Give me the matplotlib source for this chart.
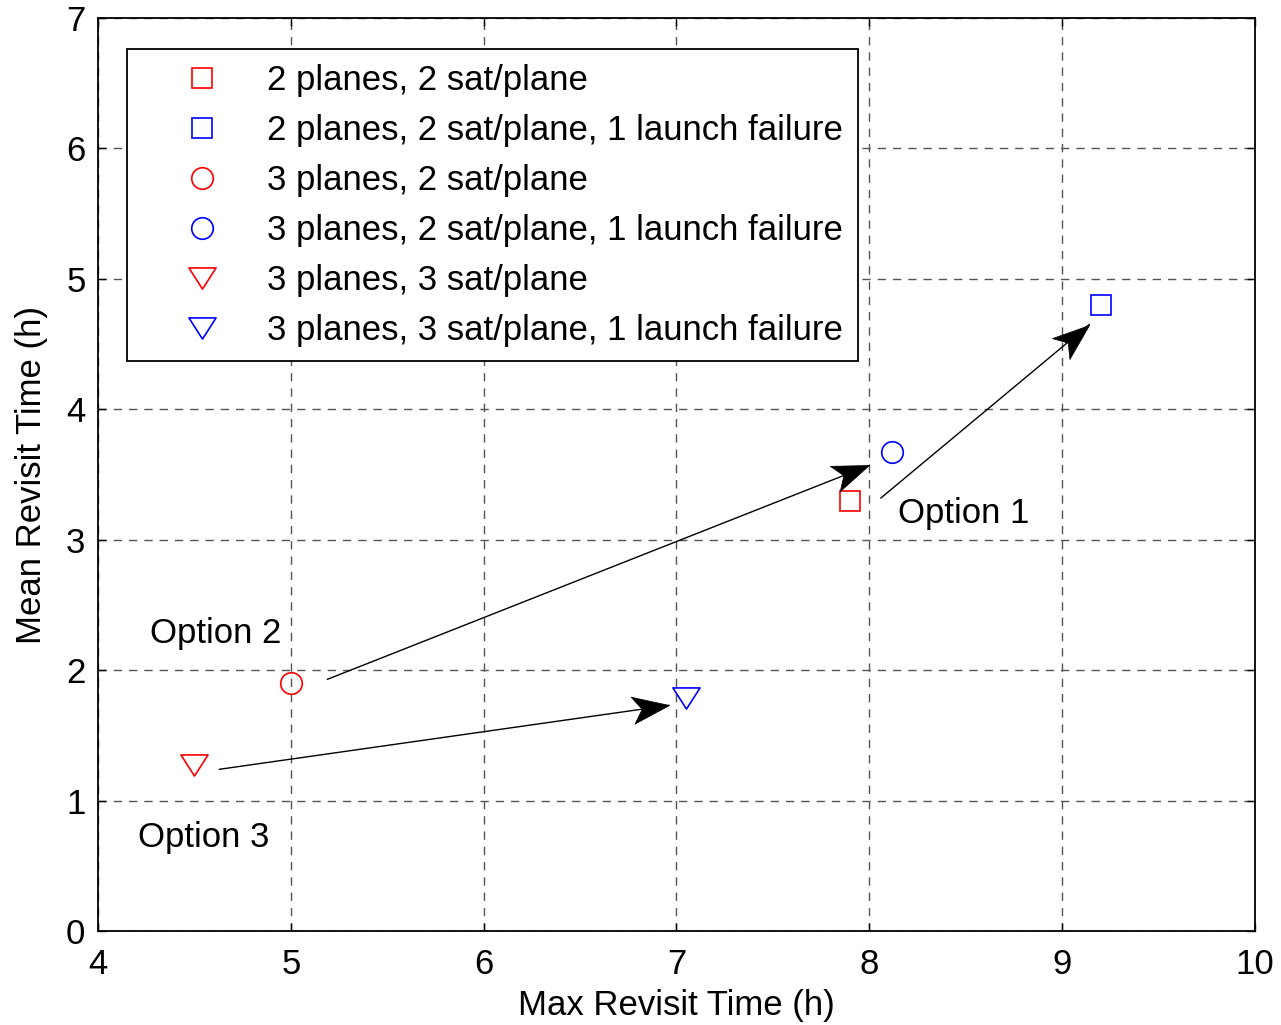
import numpy as np
import matplotlib
matplotlib.use('Agg')
import matplotlib.pyplot as plt
from matplotlib.path import Path
from matplotlib.markers import MarkerStyle
from matplotlib.transforms import Affine2D

plt.rcParams['font.family'] = ['Liberation Sans', 'DejaVu Sans']
FS = 25

# revisit times (max, mean) in hours for each configuration
labels = ['2 planes, 2 sat/plane',
          '2 planes, 2 sat/plane, 1 launch failure',
          '3 planes, 2 sat/plane',
          '3 planes, 2 sat/plane, 1 launch failure',
          '3 planes, 3 sat/plane',
          '3 planes, 3 sat/plane, 1 launch failure']
max_revisit = [7.9, 9.2, 5.0, 8.12, 4.5, 7.05]
mean_revisit = [3.3, 4.8, 1.9, 3.67, 1.27, 1.79]
colors = ['red', 'blue', 'red', 'blue', 'red', 'blue']

# arrows: start, end, label text, label position
options = ['Option 1', 'Option 2', 'Option 3']
arrow_start = [(8.06, 3.32), (5.19, 1.93), (4.63, 1.24)]
arrow_end = [(9.14, 4.65), (8.0, 3.57), (6.96, 1.73)]
label_pos = [(8.15, 3.2), (4.27, 2.28), (4.21, 0.72)]

# downward triangle, wider than tall
tri = Path([(-1, 0.78), (1, 0.78), (0, -0.78), (-1, 0.78)],
           [Path.MOVETO, Path.LINETO, Path.LINETO, Path.CLOSEPOLY])
markers = ['s', 's', 'o', 'o', tri, tri]
sizes = [15, 15, 15.5, 15.5, 19.5, 19.5]

# notched arrow head, tip at origin pointing along +x
head = Path([(0, 0), (-1, 0.37), (-0.75, 0), (-1, -0.37), (0, 0)],
            [Path.MOVETO, Path.LINETO, Path.LINETO, Path.LINETO, Path.CLOSEPOLY])

fig = plt.figure(figsize=(12.81, 10.25), dpi=100)
ax = fig.add_axes([0.0765, 0.0917, 0.9032, 0.8907])
ax.set_xlim(4, 10)
ax.set_ylim(0, 7)

for x, y, m, c, s, lab in zip(max_revisit, mean_revisit, markers, colors, sizes, labels):
    ax.plot([x], [y], linestyle='none', marker=m, markersize=s,
            markerfacecolor='none', markeredgecolor=c, markeredgewidth=1.2,
            label=lab)

for (x0, y0), (x1, y1), txt, (tx, ty) in zip(arrow_start, arrow_end, options, label_pos):
    ax.plot([x0, x1], [y0, y1], color='black', lw=1.0)
    p0 = ax.transData.transform((x0, y0))
    p1 = ax.transData.transform((x1, y1))
    ang = np.degrees(np.arctan2(p1[1] - p0[1], p1[0] - p0[0]))
    ms = MarkerStyle(head, transform=Affine2D().rotate_deg(ang))
    ax.plot([x1], [y1], linestyle='none', marker=ms, markersize=53,
            color='black', markeredgewidth=0.5)
    ax.text(tx, ty, txt, fontsize=FS, ha='left', va='center')

ax.set_xticks(range(4, 11))
ax.set_yticks(range(0, 8))
ax.tick_params(direction='in', length=6, width=1, labelsize=FS,
               top=True, right=True)
ax.tick_params(axis='x', pad=12)
ax.tick_params(axis='y', pad=9)
ax.grid(True, linestyle=(0, (6, 5)), color='#555555', linewidth=1.0)
for sp in ax.spines.values():
    sp.set_linewidth(1.3)

ax.set_xlabel('Max Revisit Time (h)', fontsize=FS, labelpad=6)
ax.set_ylabel('Mean Revisit Time (h)', fontsize=FS, labelpad=13)

leg = ax.legend(loc='upper left', bbox_to_anchor=(0.025, 0.966), borderaxespad=0,
                fontsize=FS, fancybox=False, framealpha=1, edgecolor='black',
                handlelength=3.5, handletextpad=0.12, labelspacing=0.49,
                borderpad=0.42, numpoints=1)
leg.get_frame().set_linewidth(1.3)

fig.savefig('out.png', dpi=100)
